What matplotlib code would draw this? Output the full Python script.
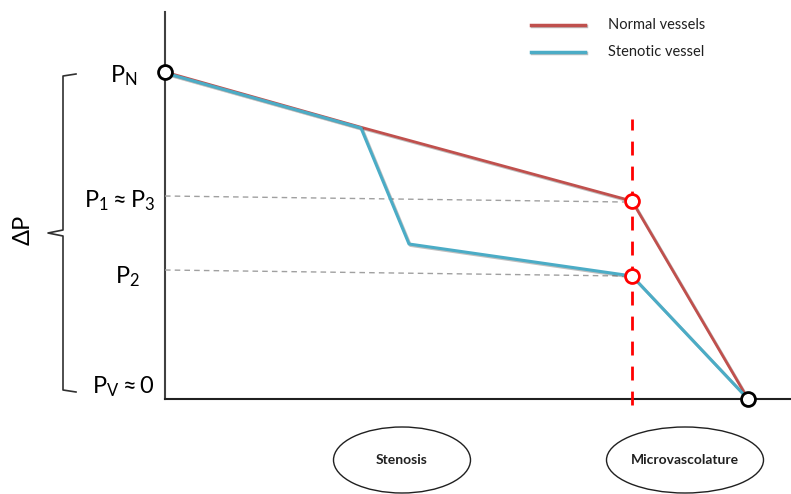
import matplotlib
matplotlib.use("Agg")
import matplotlib.pyplot as plt
from matplotlib.patches import Ellipse
import matplotlib.patheffects as pe

plt.rcParams['font.family'] = ['Lato', 'DejaVu Sans']
plt.rcParams['mathtext.fontset'] = 'custom'
plt.rcParams['mathtext.rm'] = 'Lato'
plt.rcParams['mathtext.it'] = 'Lato'

# Position along the vessel tree and pressure at each node
normal_x = [165, 360, 632, 748]
normal_p = [327, 272, 198, 0]
stenotic_x = [165, 361, 409, 632, 748]
stenotic_p = [326, 271, 155, 123, 0]

micro_x = 632
p_levels = [203, 129]          # P1≈P3 and P2 guide-line levels at the axis
p_levels_end = [197, 123]
level_labels = [r'$\mathregular{P_1 \approx P_3}$', r'$\mathregular{P_2}$']
region_labels = ['Stenosis', 'Microvascolature']
region_x = [402, 685]
region_w = [137, 157]
legend_labels = ['Normal vessels', 'Stenotic vessel']

red = '#c0504d'
blue = '#4bacc6'

fig = plt.figure(figsize=(7.91, 4.94), dpi=100)
ax = fig.add_axes([0, 0, 1, 1])
ax.set_xlim(0, 791)
ax.set_ylim(-95, 399)
ax.axis('off')

shadow = [pe.SimpleLineShadow(offset=(1, -1), alpha=0.25), pe.Normal()]

# axes
ax.plot([165, 165], [0, 387], color='#404040', lw=1.5, zorder=1)
ax.plot([165, 791], [0, 0], color='#202020', lw=1.5, zorder=1)

# guide lines to the pressure levels
for y0, y1 in zip(p_levels, p_levels_end):
    ax.plot([165, micro_x - 8], [y0, y1], color='#a0a0a0', lw=1.0,
            ls=(0, (4, 3)), zorder=2)

# microvasculature marker
ax.plot([micro_x, micro_x], [-6, 280], color='#ff0000', lw=2.0,
        ls=(0, (5, 4)), zorder=2)

# pressure profiles
ax.plot(normal_x, normal_p, color=red, lw=2.0, zorder=3, path_effects=shadow)
ax.plot(stenotic_x, stenotic_p, color=blue, lw=2.2, zorder=4, path_effects=shadow)

# node markers
ax.plot([normal_x[0], normal_x[-1]], [normal_p[0], normal_p[-1]], 'o', ms=10,
        mfc='white', mec='black', mew=2.0, zorder=6)
ax.plot([normal_x[2], stenotic_x[3]], [normal_p[2], stenotic_p[3]], 'o', ms=10,
        mfc='white', mec='#ff0000', mew=2.0, zorder=6)

# pressure labels
fs = 17
ax.text(138, normal_p[0] - 4, r'$\mathregular{P_N}$', ha='right', va='center', fontsize=fs)
ax.text(155, p_levels[0] - 5, level_labels[0], ha='right', va='center', fontsize=fs)
ax.text(140, p_levels[1] - 7, level_labels[1], ha='right', va='center', fontsize=fs)
ax.text(155, 12, r'$\mathregular{P_V \approx 0}$', ha='right', va='center', fontsize=fs)
ax.text(23, 169, 'ΔP', rotation=90, ha='center', va='center', fontsize=17)

# curly bracket for the pressure drop
bx = 63
ax.plot([76, bx, bx, 48, bx, bx, 76], [325, 323, 169, 166, 163, 9, 7],
        color='#303030', lw=1.2, zorder=1)

# legend
ax.plot([531, 585], [374, 374], color=red, lw=2.5, path_effects=shadow)
ax.plot([531, 585], [347, 347], color=blue, lw=2.5, path_effects=shadow)
ax.text(608, 374, legend_labels[0], va='center', ha='left', fontsize=10.5, color='#202020')
ax.text(608, 347, legend_labels[1], va='center', ha='left', fontsize=10.5, color='#202020')

# anatomical regions
for cx, lab, w in zip(region_x, region_labels, region_w):
    ax.add_patch(Ellipse((cx, -61), w, 66, fill=False, ec='#202020', lw=1.0))
    ax.text(cx, -61, lab, ha='center', va='center', fontsize=10, fontweight='bold',
            color='#202020')

fig.savefig('out.png', dpi=100)
